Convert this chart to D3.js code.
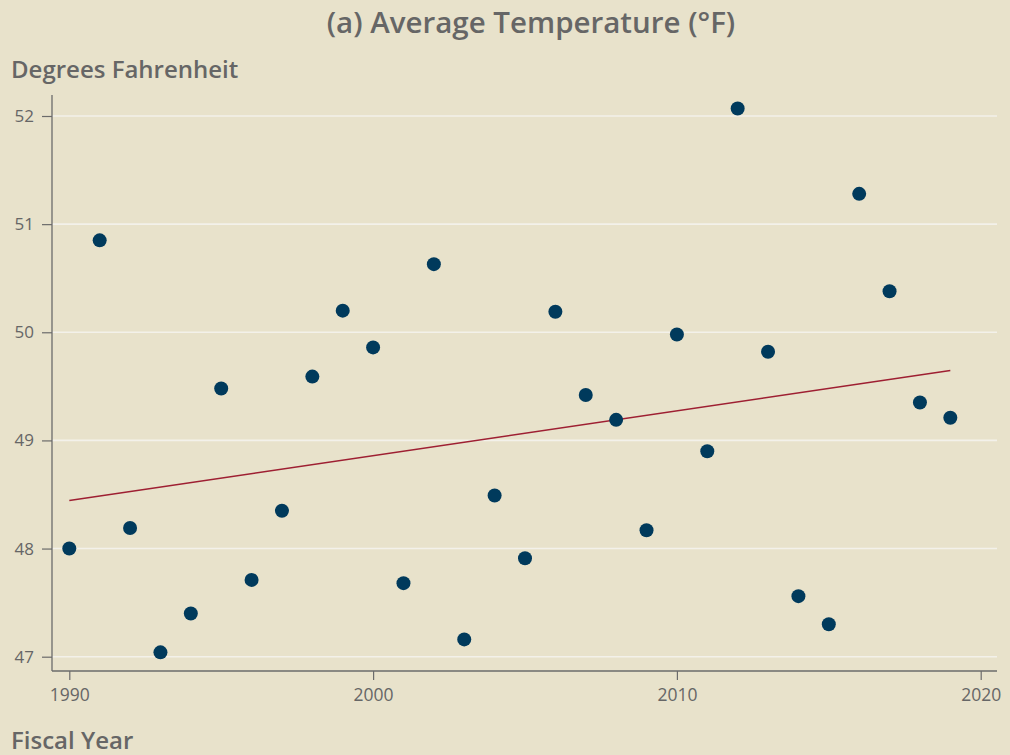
<!DOCTYPE html>
<html><head><meta charset="utf-8">
<script src="https://cdn.jsdelivr.net/npm/d3@7"></script>
<style>
html,body{margin:0;padding:0;background:#e8e2cb;}
svg{display:block;font-family:"Open Sans",sans-serif;}
</style></head>
<body>
<svg id="chart" width="1010" height="755"></svg>
<script>
const years = [1990,1991,1992,1993,1994,1995,1996,1997,1998,1999,2000,2001,2002,2003,2004,2005,2006,2007,2008,2009,2010,2011,2012,2013,2014,2015,2016,2017,2018,2019];
const temps = [48.00,50.85,48.19,47.04,47.40,49.48,47.71,48.35,49.59,50.20,49.86,47.68,50.63,47.16,48.49,47.91,50.19,49.42,49.19,48.17,49.98,48.90,52.07,49.82,47.56,47.30,51.28,50.38,49.35,49.21];
const xTicks = [1990,2000,2010,2020];
const yTicks = [47,48,49,50,51,52];
const title = "(a) Average Temperature (°F)";
const yTitle = "Degrees Fahrenheit";
const xTitle = "Fiscal Year";

const svg = d3.select("#chart");
const x = d3.scaleLinear().domain([1990,2020]).range([69.3,980.7]);
const y = d3.scaleLinear().domain([47,52]).range([656.7,116]);
const axisLeft = 52, axisBottom = 671, rightEdge = 997, topEdge = 95;
const txt = "#666666";

svg.append("rect").attr("width",1010).attr("height",755).attr("fill","#e8e2cb");

// gridlines
svg.append("g").selectAll("line").data(yTicks).join("line")
  .attr("x1",axisLeft).attr("x2",rightEdge)
  .attr("y1",d=>y(d)).attr("y2",d=>y(d))
  .attr("stroke","#f3f1ea").attr("stroke-width",1.6);

// y axis
const gy = svg.append("g").attr("transform",`translate(${axisLeft},0)`)
  .call(d3.axisLeft(y).tickValues(yTicks).tickFormat(d3.format("d")).tickSize(10).tickPadding(8));
gy.select(".domain").remove();
gy.append("line").attr("x1",0).attr("x2",0).attr("y1",topEdge).attr("y2",axisBottom).attr("stroke","#6b6b6b").attr("stroke-width",1.3);
gy.selectAll(".tick line").attr("x2",-10).attr("x1",0).attr("stroke","#6b6b6b").attr("stroke-width",1.2);
gy.selectAll(".tick text").attr("fill",txt).style("font-size","17px").style("font-family","'Open Sans'");

// x axis
const gx = svg.append("g").attr("transform",`translate(0,${axisBottom})`)
  .call(d3.axisBottom(x).tickValues(xTicks).tickFormat(d3.format("d")).tickSize(9).tickPadding(9));
gx.select(".domain").remove();
gx.append("line").attr("x1",axisLeft).attr("x2",rightEdge).attr("y1",0).attr("y2",0).attr("stroke","#6b6b6b").attr("stroke-width",1.3);
gx.selectAll(".tick line").attr("stroke","#6b6b6b").attr("stroke-width",1.2);
gx.selectAll(".tick text").attr("fill",txt).style("font-size","17.5px").style("font-family","'Open Sans'");

// trend line (least squares fit of the data)
const mx = d3.mean(years), my = d3.mean(temps);
let num=0, den=0;
years.forEach((yr,i)=>{num+=(yr-mx)*(temps[i]-my); den+=(yr-mx)*(yr-mx);});
const slope = num/den, icpt = my - slope*mx;
const ext = d3.extent(years);
svg.append("line")
  .attr("x1",x(ext[0])).attr("y1",y(icpt+slope*ext[0]))
  .attr("x2",x(ext[1])).attr("y2",y(icpt+slope*ext[1]))
  .attr("stroke","#9e1f32").attr("stroke-width",1.5);

// points
svg.append("g").selectAll("circle").data(years).join("circle")
  .attr("cx",d=>x(d)).attr("cy",(d,i)=>y(temps[i])).attr("r",7)
  .attr("fill","#003a5c");

// titles
svg.append("text").attr("x",531).attr("y",33).attr("text-anchor","middle")
  .style("font-size","29.5px").attr("font-weight",600).attr("fill",txt).text(title);
svg.append("text").attr("x",11).attr("y",78)
  .style("font-size","24px").attr("font-weight",600).attr("fill",txt).text(yTitle);
svg.append("text").attr("x",11).attr("y",749)
  .style("font-size","24px").attr("font-weight",600).attr("fill",txt).text(xTitle);
</script>
</body></html>
